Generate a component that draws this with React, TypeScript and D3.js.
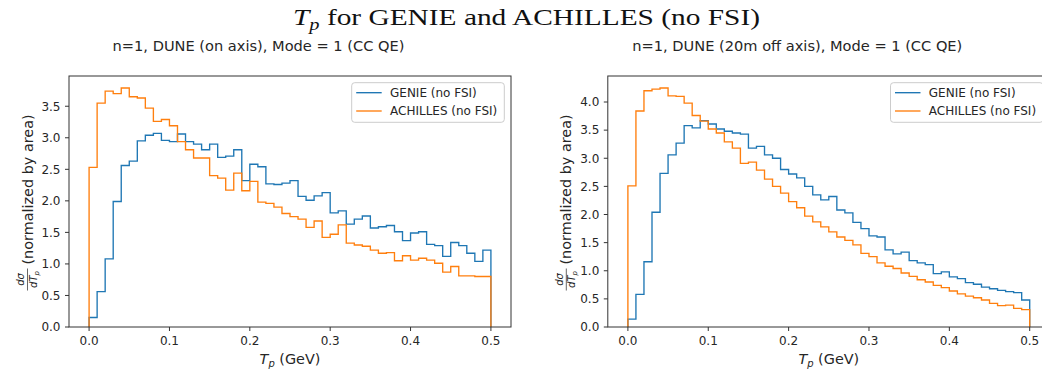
import React from 'react';
import * as d3 from 'd3';

// 50 bins of 0.01 GeV between 0 and 0.5
const BIN_EDGES = d3.range(51).map((i) => i / 100);

const genieOnAxis = [
  0.15, 0.56, 1.08, 1.99, 2.56, 2.63, 2.95, 3.04, 3.07, 2.96,
  2.94, 3.06, 2.94, 2.90, 2.81, 2.90, 2.69, 2.71, 2.81, 2.32,
  2.58, 2.54, 2.27, 2.26, 2.28, 2.32, 2.07, 2.01, 2.08, 2.13,
  1.81, 1.84, 1.63, 1.71, 1.76, 1.57, 1.59, 1.61, 1.51, 1.37,
  1.49, 1.51, 1.31, 1.29, 1.12, 1.34, 1.29, 1.17, 1.04, 1.22,
];
const achillesOnAxis = [
  2.53, 3.55, 3.74, 3.70, 3.79, 3.65, 3.63, 3.47, 3.26, 3.29,
  3.19, 2.94, 2.81, 2.68, 2.68, 2.40, 2.36, 2.17, 2.44, 2.16,
  2.31, 1.98, 1.96, 1.90, 1.80, 1.75, 1.71, 1.58, 1.68, 1.42,
  1.47, 1.62, 1.33, 1.30, 1.28, 1.22, 1.17, 1.18, 1.05, 1.13,
  1.06, 1.09, 1.06, 1.01, 0.87, 0.96, 0.81, 0.81, 0.80, 0.80,
];
const genieOffAxis = [
  0.14, 0.58, 1.16, 2.04, 2.73, 3.06, 3.27, 3.58, 3.54, 3.67,
  3.61, 3.52, 3.48, 3.45, 3.43, 3.18, 3.21, 3.06, 3.00, 2.80,
  2.72, 2.65, 2.50, 2.35, 2.26, 2.32, 2.08, 2.03, 1.86, 1.75,
  1.62, 1.60, 1.37, 1.30, 1.33, 1.18, 1.14, 1.11, 0.95, 0.98,
  0.89, 0.86, 0.79, 0.76, 0.71, 0.68, 0.65, 0.63, 0.61, 0.48,
];
const achillesOffAxis = [
  2.51, 3.84, 4.20, 4.23, 4.25, 4.11, 4.10, 3.98, 3.76, 3.66,
  3.52, 3.45, 3.29, 3.18, 2.91, 2.93, 2.79, 2.63, 2.50, 2.38,
  2.23, 2.12, 1.97, 1.87, 1.78, 1.69, 1.60, 1.54, 1.46, 1.31,
  1.25, 1.14, 1.08, 1.04, 0.96, 0.90, 0.84, 0.80, 0.74, 0.70,
  0.64, 0.59, 0.55, 0.52, 0.48, 0.42, 0.38, 0.39, 0.33, 0.31,
];

const xTicks = [0, 0.1, 0.2, 0.3, 0.4, 0.5];
const yTicksOnAxis = [0, 0.5, 1, 1.5, 2, 2.5, 3, 3.5];
const yTicksOffAxis = [0, 0.5, 1, 1.5, 2, 2.5, 3, 3.5, 4];

const seriesNames = ['GENIE (no FSI)', 'ACHILLES (no FSI)'];
const seriesColors = ['#1f77b4', '#ff7f0e'];

const FONT = 'DejaVu Sans, sans-serif';
const INK = '#262626';

interface PanelProps {
  left: number;
  title: string;
  genie: number[];
  achilles: number[];
  yTicks: number[];
}

const TOP = 76;
const WIDTH = 442;
const HEIGHT = 251;

const Panel: React.FC<PanelProps> = ({ left, title, genie, achilles, yTicks }) => {
  const x = d3.scaleLinear().domain([-0.025, 0.525]).range([left, left + WIDTH]);
  const yMax = d3.max([...genie, ...achilles])! * 1.05;
  const y = d3.scaleLinear().domain([0, yMax]).range([TOP + HEIGHT, TOP]);

  const stepLine = d3
    .line<[number, number]>()
    .x((d) => x(d[0]))
    .y((d) => y(d[1]))
    .curve(d3.curveStepAfter);

  // histtype='step' outline: up from 0, across each bin, back down to 0
  const outline = (vals: number[]): [number, number][] => [
    [BIN_EDGES[0], 0],
    ...vals.map((v, i) => [BIN_EDGES[i], v] as [number, number]),
    [BIN_EDGES[50], vals[vals.length - 1]],
    [BIN_EDGES[50], 0],
  ];

  const right = left + WIDTH;
  const bottom = TOP + HEIGHT;
  const legX = right - 6.7 - 152.6;
  const legY = 82.7;
  const ylabX = left - 42;
  const ylabY = TOP + HEIGHT / 2;

  return (
    <g>
      <text x={left + 189.5} y={51} textAnchor="middle" fontFamily={FONT} fontSize={14.6} fill={INK}>
        {title}
      </text>

      {[genie, achilles].map((vals, k) => (
        <path key={k} d={stepLine(outline(vals)) || ''} fill="none" stroke={seriesColors[k]} strokeWidth={1.35} />
      ))}

      <rect x={left} y={TOP} width={WIDTH} height={HEIGHT} fill="none" stroke="#333" strokeWidth={1} />

      {xTicks.map((t) => (
        <g key={t}>
          <line x1={x(t)} x2={x(t)} y1={bottom} y2={bottom + 4} stroke="#333" strokeWidth={1} />
          <text x={x(t)} y={bottom + 18} textAnchor="middle" fontFamily={FONT} fontSize={12} fill={INK}>
            {t.toFixed(1)}
          </text>
        </g>
      ))}
      {yTicks.map((t) => (
        <g key={t}>
          <line x1={left - 4} x2={left} y1={y(t)} y2={y(t)} stroke="#333" strokeWidth={1} />
          <text x={left - 8.5} y={y(t) + 4.3} textAnchor="end" fontFamily={FONT} fontSize={12} fill={INK}>
            {t.toFixed(1)}
          </text>
        </g>
      ))}

      <text x={left + WIDTH / 2} y={364} textAnchor="middle" fontFamily={FONT} fontSize={14.4} fill={INK}>
        <tspan fontStyle="italic">T</tspan>
        <tspan fontStyle="italic" fontSize={10} dy={3}>p</tspan>
        <tspan dy={-3}> (GeV)</tspan>
      </text>

      <g transform={`translate(${ylabX},${ylabY}) rotate(-90)`} fontFamily={FONT} fill={INK}>
        <text x={-78} y={-3} textAnchor="middle" fontSize={10}>
          <tspan fontStyle="italic">d</tspan>
          <tspan fontStyle="italic">σ</tspan>
        </text>
        <line x1={-89} x2={-67} y1={0.5} y2={0.5} stroke={INK} strokeWidth={0.7} />
        <text x={-78} y={9.5} textAnchor="middle" fontSize={10}>
          <tspan fontStyle="italic">dT</tspan>
          <tspan fontStyle="italic" fontSize={7} dy={2}>p</tspan>
        </text>
        <text x={-63} y={5.5} fontSize={14.4}>
          (normalized by area)
        </text>
      </g>

      <rect x={legX} y={legY} width={152.6} height={39.6} rx={3} fill="white" fillOpacity={0.8} stroke="#ccc" strokeWidth={1} />
      {seriesNames.map((name, k) => {
        const cy = legY + 10 + k * 18.3;
        return (
          <g key={name}>
            <line x1={legX + 4.5} x2={legX + 30} y1={cy} y2={cy} stroke={seriesColors[k]} strokeWidth={1.35} />
            <text x={legX + 38.3} y={cy + 4.3} fontFamily={FONT} fontSize={12} fill={INK}>
              {name}
            </text>
          </g>
        );
      })}
    </g>
  );
};

export default function App() {
  return (
    <svg
      width={1042}
      height={376}
      viewBox="0 0 1042 376"
      style={{ position: 'absolute', left: 0, top: 0, background: 'white' }}
    >
      <rect width={1042} height={376} fill="white" />
      <text
        x={526.5}
        y={25}
        textAnchor="middle"
        fontFamily="Liberation Serif, serif"
        fontSize={23}
        fill="#111"
        textLength={467}
        lengthAdjust="spacingAndGlyphs"
      >
        <tspan fontStyle="italic">T</tspan>
        <tspan fontStyle="italic" fontSize={16} dy={5}>p</tspan>
        <tspan dy={-5}> for GENIE and ACHILLES (no FSI)</tspan>
      </text>
      <Panel
        left={69}
        title="n=1, DUNE (on axis), Mode = 1 (CC QE)"
        genie={genieOnAxis}
        achilles={achillesOnAxis}
        yTicks={yTicksOnAxis}
      />
      <Panel
        left={607.8}
        title="n=1, DUNE (20m off axis), Mode = 1 (CC QE)"
        genie={genieOffAxis}
        achilles={achillesOffAxis}
        yTicks={yTicksOffAxis}
      />
    </svg>
  );
}
